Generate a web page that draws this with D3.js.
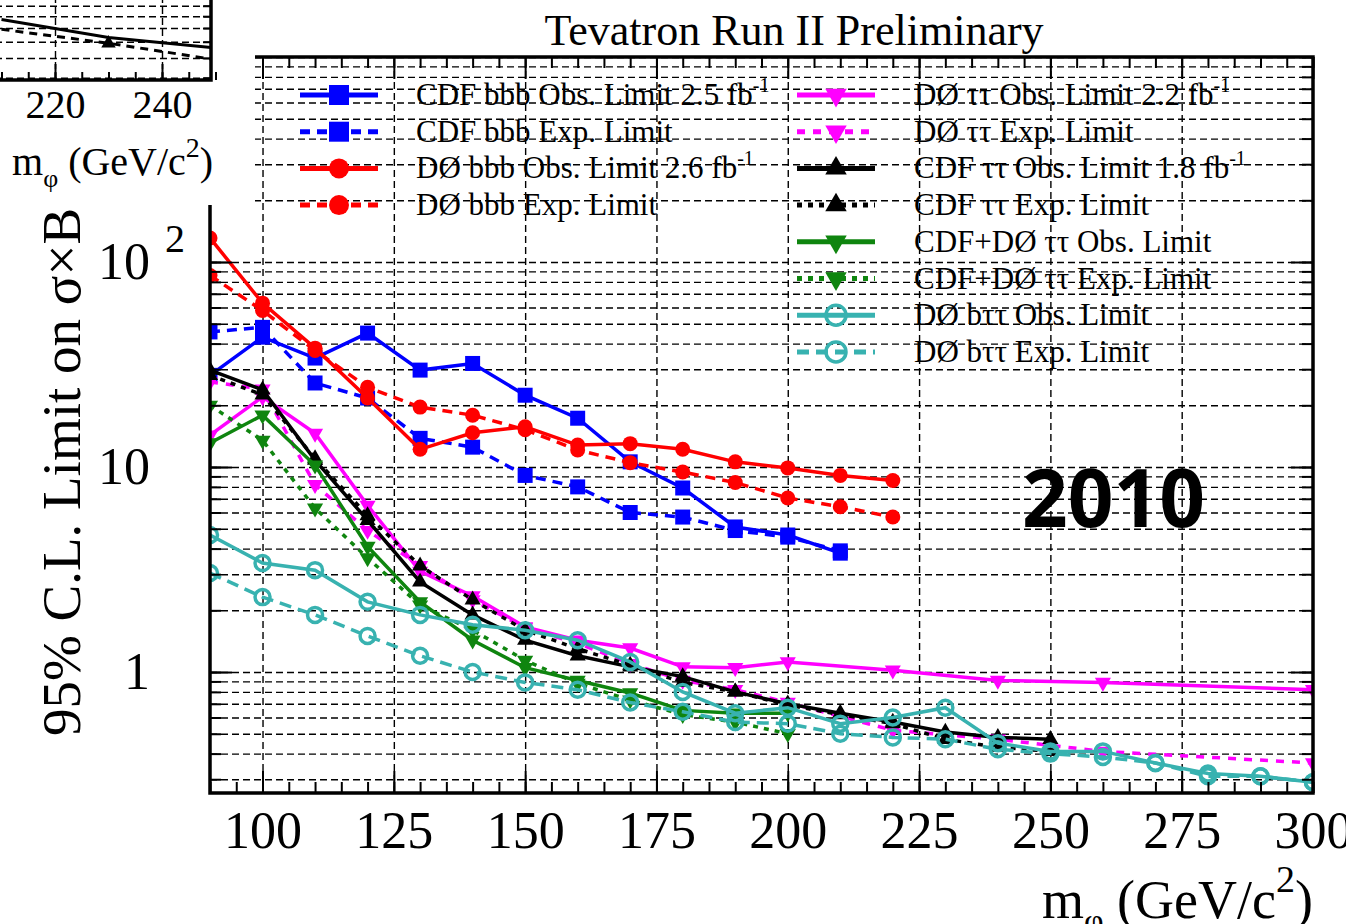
<!DOCTYPE html>
<html>
<head>
<meta charset="utf-8">
<title>Tevatron Run II Preliminary</title>
<script src="https://cdn.jsdelivr.net/npm/d3@7"></script>
<style>
body { margin:0; background:#fff; }
text { font-family:'Liberation Serif', 'Times New Roman', serif; fill:#000; }
.yearLabel { font-family:'Open Sans', 'DejaVu Sans', sans-serif; font-weight:700; }
</style>
</head>
<body>
<svg id="chart" width="1346" height="924"></svg>
<script>

// tick labels
var massTicks = [100, 125, 150, 175, 200, 225, 250, 275, 300];
var limitTicks = [1, 10, 100];

// CDF bbb
var mCdfBbb = [90, 100, 110, 120, 130, 140, 150, 160, 170, 180, 190, 200, 210];
var cdfBbbObs = [28, 43, 34, 45, 29.7, 32, 22.4, 17.3, 10.6, 7.9, 5.1, 4.66, 3.8];
var cdfBbbExp = [45.6, 48, 25.7, 21.7, 13.8, 12.5, 9.1, 8.0, 6.0, 5.7, 4.9, 4.55, 3.9];

// DØ bbb
var mD0Bbb = [90, 100, 110, 120, 130, 140, 150, 160, 170, 180, 190, 200, 210, 220];
var d0BbbObs = [131, 63, 38, 21.7, 12.2, 14.7, 15.7, 12.8, 13.0, 12.2, 10.6, 9.9, 9.1, 8.6];
var d0BbbExp = [86, 58, 37, 24.5, 19.6, 17.9, 15.2, 12.1, 10.5, 9.45, 8.4, 7.06, 6.4, 5.7];

// DØ tautau
var mD0Tt = [90, 100, 110, 120, 130, 140, 150, 160, 170, 180, 190, 200, 220, 240, 260, 300];
var d0TtObs = [14.3, 22, 14.6, 6.5, 3.1, 2.35, 1.66, 1.43, 1.31, 1.06, 1.05, 1.12, 1.02, 0.91, 0.89, 0.82];
var d0TtExp = [26, 24, 8.2, 4.9, 3.3, 2.25, 1.64, 1.38, 1.1, 0.91, 0.82, 0.71, 0.52, 0.47, 0.41, 0.36];

// CDF tautau
var mCdfTt = [90, 100, 110, 120, 130, 140, 150, 160, 170, 180, 190, 200, 210, 220, 230, 240, 250];
var cdfTtObs = [29.7, 23.8, 10.8, 5.5, 2.75, 1.9, 1.43, 1.2, 1.06, 0.95, 0.8, 0.7, 0.63, 0.57, 0.51, 0.48, 0.47];
var cdfTtExp = [28, 22.5, 11, 5.8, 3.3, 2.25, 1.6, 1.3, 1.08, 0.89, 0.8, 0.69, 0.62, 0.56, 0.47, 0.43, 0.41];

// CDF+DØ tautau
var mComb = [90, 100, 110, 120, 130, 140, 150, 160, 170, 180, 190, 200];
var combObs = [13.1, 17.9, 10.2, 4.1, 2.2, 1.43, 1.05, 0.91, 0.79, 0.65, 0.63, 0.63];
var combExp = [20, 13.5, 6.3, 3.6, 2.12, 1.6, 1.14, 0.88, 0.73, 0.62, 0.57, 0.5];

// DØ b tautau
var mD0Btt = [90, 100, 110, 120, 130, 140, 150, 160, 170, 180, 190, 200, 210, 220, 230, 240, 250, 260, 270, 280, 290, 300];
var d0BttObs = [4.66, 3.4, 3.14, 2.2, 1.9, 1.7, 1.6, 1.43, 1.12, 0.8, 0.63, 0.67, 0.56, 0.6, 0.67, 0.45, 0.41, 0.41, 0.36, 0.32, 0.31, 0.29];
var d0BttExp = [3.04, 2.32, 1.9, 1.5, 1.2, 1.0, 0.89, 0.82, 0.71, 0.64, 0.57, 0.56, 0.5, 0.48, 0.47, 0.42, 0.40, 0.385, 0.36, 0.31, 0.31, 0.29];

var legendText = ['CDF bbb Obs. Limit 2.5 fb', 'CDF bbb Exp. Limit', 'DØ bbb Obs. Limit 2.6 fb', 'DØ bbb Exp. Limit',
	'DØ ττ Obs. Limit 2.2 fb', 'DØ ττ Exp. Limit', 'CDF ττ Obs. Limit 1.8 fb', 'CDF ττ Exp. Limit',
	'CDF+DØ ττ Obs. Limit', 'CDF+DØ ττ Exp. Limit', 'DØ bττ Obs. Limit', 'DØ bττ Exp. Limit'];
var legendSup = ['-1', '', '-1', '', '-1', '', '-1', '', '', '', '', ''];

// fragment of the neighbouring plot (top left corner)
var insetMass = [210, 230, 250];
var insetObs = [0.77, 0.63, 0.56];
var insetExp = [0.69, 0.59, 0.49];
var insetTicks = [220, 240];

var blue = '#0000ff', red = '#ff0000', magenta = '#ff00ff', green = '#0f850f', teal = '#38b2b0';

var series = [
	{m: mCdfBbb, v: cdfBbbObs, color: blue, dash: null, sym: 'square'},
	{m: mCdfBbb, v: cdfBbbExp, color: blue, dash: '10,7', sym: 'square'},
	{m: mD0Bbb, v: d0BbbObs, color: red, dash: null, sym: 'circle'},
	{m: mD0Bbb, v: d0BbbExp, color: red, dash: '10,7', sym: 'circle'},
	{m: mD0Tt, v: d0TtObs, color: magenta, dash: null, sym: 'down'},
	{m: mD0Tt, v: d0TtExp, color: magenta, dash: '8,8', sym: 'down'},
	{m: mCdfTt, v: cdfTtObs, color: '#000', dash: null, sym: 'up'},
	{m: mCdfTt, v: cdfTtExp, color: '#000', dash: '5,6', sym: 'up'},
	{m: mComb, v: combObs, color: green, dash: null, sym: 'down'},
	{m: mComb, v: combExp, color: green, dash: '5,6', sym: 'down'},
	{m: mD0Btt, v: d0BttObs, color: teal, dash: null, sym: 'open'},
	{m: mD0Btt, v: d0BttExp, color: teal, dash: '12,7', sym: 'open'}
];

var svg = d3.select('#chart');
var pLeft = 210, pRight = 1313, pTop = 57, pBottom = 793;

var x = d3.scaleLinear().domain([90, 300]).range([pLeft, pRight]);
var y = d3.scaleLog().domain([0.257, 1000]).range([pBottom, pTop]);

var defs = svg.append('defs');
defs.append('clipPath').attr('id', 'plotClip')
	.append('rect')
	.attr('x', pLeft).attr('y', pTop)
	.attr('width', pRight - pLeft).attr('height', pBottom - pTop);

function styleGrid(g) {
	g.select('.domain').remove();
	g.selectAll('line')
		.attr('stroke', '#000')
		.attr('stroke-width', 1.4)
		.attr('stroke-dasharray', '7,4');
}

// grid
svg.append('g')
	.attr('transform', 'translate(' + pLeft + ',0)')
	.call(d3.axisLeft(y).tickValues(y.ticks()).tickSize(-(pRight - pLeft)).tickFormat(''))
	.call(styleGrid);

svg.append('g')
	.attr('transform', 'translate(0,' + pBottom + ')')
	.call(d3.axisBottom(x).tickValues(massTicks.filter(function(d) { return d < 300; })).tickSize(-(pBottom - pTop)).tickFormat(''))
	.call(styleGrid);

function marker(g, s, size) {
	var type = d3.symbolSquare, area = size * size;
	if (s.sym == 'circle' || s.sym == 'open') { type = d3.symbolCircle; area = Math.PI * size * size / 4; }
	if (s.sym == 'up' || s.sym == 'down') { type = d3.symbolTriangle; area = size * size * 0.5; }
	var p = g.append('path').attr('d', d3.symbol().type(type).size(area)());
	if (s.sym == 'down') p.attr('transform', 'rotate(180)');
	if (s.sym == 'open') {
		p.attr('fill', 'none').attr('stroke', s.color).attr('stroke-width', 3.5);
	} else {
		p.attr('fill', s.color);
	}
}

// curves
var plot = svg.append('g').attr('clip-path', 'url(#plotClip)');
var line = d3.line().x(function(d) { return x(d[0]); }).y(function(d) { return y(d[1]); });

series.forEach(function(s) {
	var pts = s.m.map(function(m, i) { return [m, s.v[i]]; });
	plot.append('path')
		.attr('d', line(pts))
		.attr('fill', 'none')
		.attr('stroke', s.color)
		.attr('stroke-width', 3.5)
		.attr('stroke-dasharray', s.dash);
	pts.forEach(function(p) {
		var g = plot.append('g').attr('transform', 'translate(' + x(p[0]) + ',' + y(p[1]) + ')');
		marker(g, s, 15);
	});
});

// legend
var rowH = 36.7;
series.forEach(function(s, i) {
	var col = i < 4 ? 0 : 1;
	var row = i < 4 ? i : i - 4;
	var x0 = col == 0 ? 300 : 797;
	var tx = col == 0 ? 416 : 914;
	var yy = 95 + row * rowH;
	svg.append('line')
		.attr('x1', x0).attr('x2', x0 + 78)
		.attr('y1', yy).attr('y2', yy)
		.attr('stroke', s.color)
		.attr('stroke-width', 5)
		.attr('stroke-dasharray', s.dash);
	var g = svg.append('g').attr('transform', 'translate(' + (x0 + 39) + ',' + yy + ')');
	marker(g, s, 20);
	var t = svg.append('text')
		.attr('x', tx).attr('y', yy + 10)
		.style('font-size', '31px')
		.text(legendText[i]);
	if (legendSup[i]) {
		t.append('tspan').attr('dy', -13).style('font-size', '20px').text(legendSup[i]);
	}
});

// frame ticks
function styleTicks(g) {
	g.select('.domain').remove();
	g.selectAll('line').attr('stroke', '#000').attr('stroke-width', 2);
}
var minorMass = d3.range(90, 301, 5);
svg.append('g').attr('transform', 'translate(0,' + pBottom + ')')
	.call(d3.axisBottom(x).tickValues(minorMass).tickSize(-11).tickFormat('')).call(styleTicks);
svg.append('g').attr('transform', 'translate(0,' + pBottom + ')')
	.call(d3.axisBottom(x).tickValues(massTicks).tickSize(-22).tickFormat('')).call(styleTicks);
svg.append('g').attr('transform', 'translate(0,' + pTop + ')')
	.call(d3.axisTop(x).tickValues(minorMass).tickSize(-11).tickFormat('')).call(styleTicks);
svg.append('g').attr('transform', 'translate(0,' + pTop + ')')
	.call(d3.axisTop(x).tickValues(massTicks).tickSize(-22).tickFormat('')).call(styleTicks);
svg.append('g').attr('transform', 'translate(' + pLeft + ',0)')
	.call(d3.axisLeft(y).tickValues(y.ticks()).tickSize(-11).tickFormat('')).call(styleTicks);
svg.append('g').attr('transform', 'translate(' + pLeft + ',0)')
	.call(d3.axisLeft(y).tickValues(limitTicks).tickSize(-22).tickFormat('')).call(styleTicks);
svg.append('g').attr('transform', 'translate(' + pRight + ',0)')
	.call(d3.axisRight(y).tickValues(y.ticks()).tickSize(-11).tickFormat('')).call(styleTicks);
svg.append('g').attr('transform', 'translate(' + pRight + ',0)')
	.call(d3.axisRight(y).tickValues(limitTicks).tickSize(-22).tickFormat('')).call(styleTicks);

svg.append('rect')
	.attr('x', pLeft).attr('y', pTop)
	.attr('width', pRight - pLeft).attr('height', pBottom - pTop)
	.attr('fill', 'none').attr('stroke', '#000').attr('stroke-width', 3.5);

// tick labels
var xLab = svg.append('g').attr('transform', 'translate(0,' + pBottom + ')')
	.call(d3.axisBottom(x).tickValues(massTicks).tickSize(0).tickPadding(18).tickFormat(d3.format('d')));
xLab.select('.domain').remove();
xLab.selectAll('text').style('font-size', '52px').attr('fill', '#000').style('font-family', "'Liberation Serif', serif");

var yLab = svg.append('g').attr('transform', 'translate(' + pLeft + ',0)')
	.call(d3.axisLeft(y).tickValues(limitTicks).tickSize(0).tickPadding(60)
		.tickFormat(function(d) { return d == 100 ? '10' : String(d); }));
yLab.select('.domain').remove();
yLab.selectAll('text').style('font-size', '52px').attr('fill', '#000').style('font-family', "'Liberation Serif', serif");
svg.append('text')
	.attr('x', pLeft - 45).attr('y', y(100) - 10)
	.style('font-size', '40px')
	.text('2');

// mask + fragment of the neighbouring plot
svg.append('rect').attr('x', 0).attr('y', 0).attr('width', 255).attr('height', 205).attr('fill', '#fff');

var inset = svg.append('g');
var xi = d3.scaleLinear().domain([220, 240]).range([55, 162]);
var yi = d3.scaleLog().domain([0.39, 0.96]).range([80, 0]);
defs.append('clipPath').attr('id', 'insetClip')
	.append('rect').attr('x', 0).attr('y', 0).attr('width', 211).attr('height', 80);

inset.append('g')
	.attr('transform', 'translate(211,0)')
	.call(d3.axisLeft(yi).tickValues(yi.ticks()).tickSize(211).tickFormat(''))
	.call(styleGrid);
inset.append('g')
	.attr('transform', 'translate(0,80)')
	.call(d3.axisBottom(xi).tickValues(insetTicks).tickSize(-80).tickFormat(''))
	.call(styleGrid);

var insetPlot = inset.append('g').attr('clip-path', 'url(#insetClip)');
var iline = d3.line().x(function(d) { return xi(d[0]); }).y(function(d) { return yi(d[1]); });
insetPlot.append('path')
	.attr('d', iline(insetMass.map(function(m, i) { return [m, insetObs[i]]; })))
	.attr('fill', 'none').attr('stroke', '#000').attr('stroke-width', 3);
insetPlot.append('path')
	.attr('d', iline(insetMass.map(function(m, i) { return [m, insetExp[i]]; })))
	.attr('fill', 'none').attr('stroke', '#000').attr('stroke-width', 3).attr('stroke-dasharray', '8,6');
insetPlot.append('path')
	.attr('transform', 'translate(' + xi(insetMass[1]) + ',' + yi(insetExp[1]) + ')')
	.attr('d', d3.symbol().type(d3.symbolTriangle).size(90)())
	.attr('fill', '#000');

inset.append('g').attr('transform', 'translate(0,80)')
	.call(d3.axisBottom(xi).tickValues(d3.range(210, 251, 5)).tickSize(-8).tickFormat('')).call(styleTicks);
inset.append('g').attr('transform', 'translate(0,80)')
	.call(d3.axisBottom(xi).tickValues(insetTicks).tickSize(-16).tickFormat('')).call(styleTicks);
inset.append('g').attr('transform', 'translate(211,0)')
	.call(d3.axisRight(yi).tickValues(yi.ticks()).tickSize(-8).tickFormat('')).call(styleTicks);
inset.append('path')
	.attr('d', 'M0,80H211V0')
	.attr('fill', 'none').attr('stroke', '#000').attr('stroke-width', 3.5);

var iLab = inset.append('g').attr('transform', 'translate(0,80)')
	.call(d3.axisBottom(xi).tickValues(insetTicks).tickSize(0).tickPadding(10).tickFormat(d3.format('d')));
iLab.select('.domain').remove();
iLab.selectAll('text').style('font-size', '40px').attr('fill', '#000').style('font-family', "'Liberation Serif', serif");

var it = inset.append('text').attr('x', 12).attr('y', 175).style('font-size', '40px');
it.append('tspan').text('m');
it.append('tspan').attr('dy', 12).style('font-size', '26px').text('φ');
it.append('tspan').attr('dy', -12).text(' (GeV/c');
it.append('tspan').attr('dy', -18).style('font-size', '28px').text('2');
it.append('tspan').attr('dy', 18).text(')');

// titles
svg.append('text')
	.attr('x', 794).attr('y', 45)
	.attr('text-anchor', 'middle')
	.style('font-size', '44px')
	.text('Tevatron Run II Preliminary');

svg.append('text')
	.attr('transform', 'translate(80,472) rotate(-90)')
	.attr('text-anchor', 'middle')
	.style('font-size', '55px')
	.text('95% C.L. Limit on σ×B');

var xt = svg.append('text')
	.attr('x', 1313).attr('y', 918)
	.attr('text-anchor', 'end')
	.style('font-size', '54px');
xt.append('tspan').text('m');
xt.append('tspan').attr('dy', 14).style('font-size', '34px').text('φ');
xt.append('tspan').attr('dy', -14).text(' (GeV/c');
xt.append('tspan').attr('dy', -26).style('font-size', '38px').text('2');
xt.append('tspan').attr('dy', 26).text(')');

svg.append('text')
	.attr('class', 'yearLabel')
	.attr('x', 1022).attr('y', 527)
	.style('font-size', '80px')
	.text('2010');

</script>
</body>
</html>
